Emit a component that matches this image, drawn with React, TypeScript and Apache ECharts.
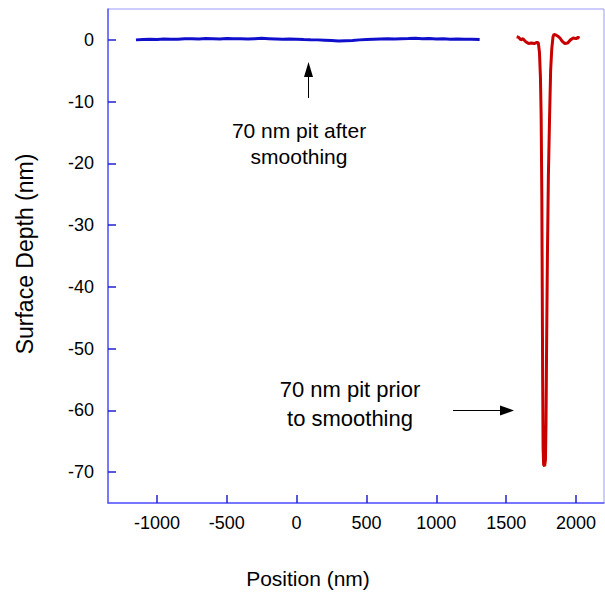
import React, { useEffect, useRef } from "react";
import * as echarts from "echarts";

const blueX = [-1150, -1100, -1050, -1000, -950, -900, -850, -800, -750, -700, -650, -600, -550, -500, -450, -400, -350, -300, -250, -200, -150, -100, -50, 0, 50, 100, 150, 200, 250, 300, 350, 400, 450, 500, 550, 600, 650, 700, 750, 800, 850, 900, 950, 1000, 1050, 1100, 1150, 1200, 1250, 1310];
const blueY = [0.0, 0.05, 0.1, 0.05, 0.15, 0.1, 0.12, 0.18, 0.2, 0.15, 0.22, 0.2, 0.15, 0.22, 0.2, 0.18, 0.15, 0.2, 0.25, 0.2, 0.15, 0.1, 0.15, 0.1, 0.05, 0.02, 0.0, -0.05, -0.1, -0.2, -0.15, -0.1, 0.0, 0.05, 0.1, 0.15, 0.2, 0.15, 0.2, 0.22, 0.25, 0.2, 0.22, 0.15, 0.2, 0.1, 0.15, 0.1, 0.1, 0.05];

const redX = [1575, 1590, 1605, 1620, 1640, 1660, 1680, 1700, 1720, 1730, 1738, 1745, 1750, 1755, 1758, 1761, 1764, 1768, 1775, 1781, 1785, 1789, 1795, 1802, 1810, 1818, 1826, 1835, 1842, 1855, 1870, 1885, 1900, 1920, 1940, 1960, 1980, 2000, 2015, 2025];
const redY = [0.5, 0.4, 0.0, 0.2, -0.3, -0.6, -0.5, -0.6, -0.4, -0.5, -2, -6, -12, -25, -40, -55, -66, -68.8, -69, -68, -62, -50, -35, -22, -13, -5, -1.5, 0.5, 0.9, 0.8, 0.6, 0.3, -0.2, -0.6, -0.5, 0.0, 0.3, 0.2, 0.4, 0.3];

const xTicks = [-1000, -500, 0, 500, 1000, 1500, 2000];
const yTicks = [0, -10, -20, -30, -40, -50, -60, -70];

const FONT = "'Liberation Sans', Arial, Helvetica, sans-serif";

export default function App() {
  const ref = useRef<HTMLDivElement>(null);
  useEffect(() => {
    if (!ref.current) return;
    const chart = echarts.init(ref.current, null, { renderer: "svg" });
    const axisColor = "#5a5aff";
    const tickColor = "#2020cc";
    chart.setOption({
      animation: false,
      backgroundColor: "#ffffff",
      grid: {
        left: 108,
        top: 9,
        right: 1,
        bottom: 99,
        show: true,
        borderColor: "#9a9aff",
        borderWidth: 1,
      },
      xAxis: {
        type: "value",
        min: -1350,
        max: 2200,
        splitLine: { show: false },
        axisLine: { show: true, onZero: false, lineStyle: { color: axisColor, width: 1.5 } },
        axisTick: { show: true, inside: true, length: 8, customValues: xTicks, lineStyle: { color: tickColor, width: 1.5 } },
        axisLabel: { customValues: xTicks, formatter: (v: number) => String(v), color: "#000", fontSize: 18, fontFamily: FONT, margin: 11 },
      },
      yAxis: {
        type: "value",
        min: -75,
        max: 5,
        splitLine: { show: false },
        axisLine: { show: true, onZero: false, lineStyle: { color: axisColor, width: 1.5 } },
        axisTick: { show: true, inside: true, length: 8, customValues: yTicks, lineStyle: { color: tickColor, width: 1.5 } },
        axisLabel: { customValues: yTicks, formatter: (v: number) => String(v), color: "#000", fontSize: 18, fontFamily: FONT, margin: 14 },
      },
      series: [
        {
          type: "line",
          data: blueX.map((x, i) => [x, blueY[i]]),
          showSymbol: false,
          lineStyle: { color: "#1010cc", width: 3 },
        },
        {
          type: "line",
          data: redX.map((x, i) => [x, redY[i]]),
          showSymbol: false,
          lineStyle: { color: "#c80000", width: 3 },
        },
      ],
      graphic: [
        {
          type: "text",
          x: 308,
          y: 578,
          style: { text: "Position (nm)", fontSize: 21, fontFamily: FONT, fill: "#000", align: "center", verticalAlign: "middle" },
        },
        {
          type: "text",
          x: 25,
          y: 254,
          rotation: Math.PI / 2,
          style: { text: "Surface Depth (nm)", fontSize: 23, fontFamily: FONT, fill: "#000", align: "center", verticalAlign: "middle" },
        },
        {
          type: "text",
          x: 299,
          y: 117,
          style: { text: "70 nm pit after\nsmoothing", fontSize: 21, lineHeight: 26, fontFamily: FONT, fill: "#000", align: "center", verticalAlign: "top" },
        },
        {
          type: "text",
          x: 350,
          y: 375,
          style: { text: "70 nm pit prior\nto smoothing", fontSize: 22, lineHeight: 29, fontFamily: FONT, fill: "#000", align: "center", verticalAlign: "top" },
        },
        { type: "line", shape: { x1: 308.5, y1: 98, x2: 308.5, y2: 74 }, style: { stroke: "#000", lineWidth: 1 } },
        { type: "polygon", shape: { points: [[308.5, 62], [304, 77], [313, 77]] }, style: { fill: "#000" } },
        { type: "line", shape: { x1: 453, y1: 410.5, x2: 503, y2: 410.5 }, style: { stroke: "#000", lineWidth: 1 } },
        { type: "polygon", shape: { points: [[514, 410.5], [500, 405.5], [500, 415.5]] }, style: { fill: "#000" } },
      ],
    });
    return () => chart.dispose();
  }, []);
  return (
    <div
      ref={ref}
      style={{ position: "fixed", left: 0, top: 0, width: 605, height: 602, background: "#fff" }}
    />
  );
}
